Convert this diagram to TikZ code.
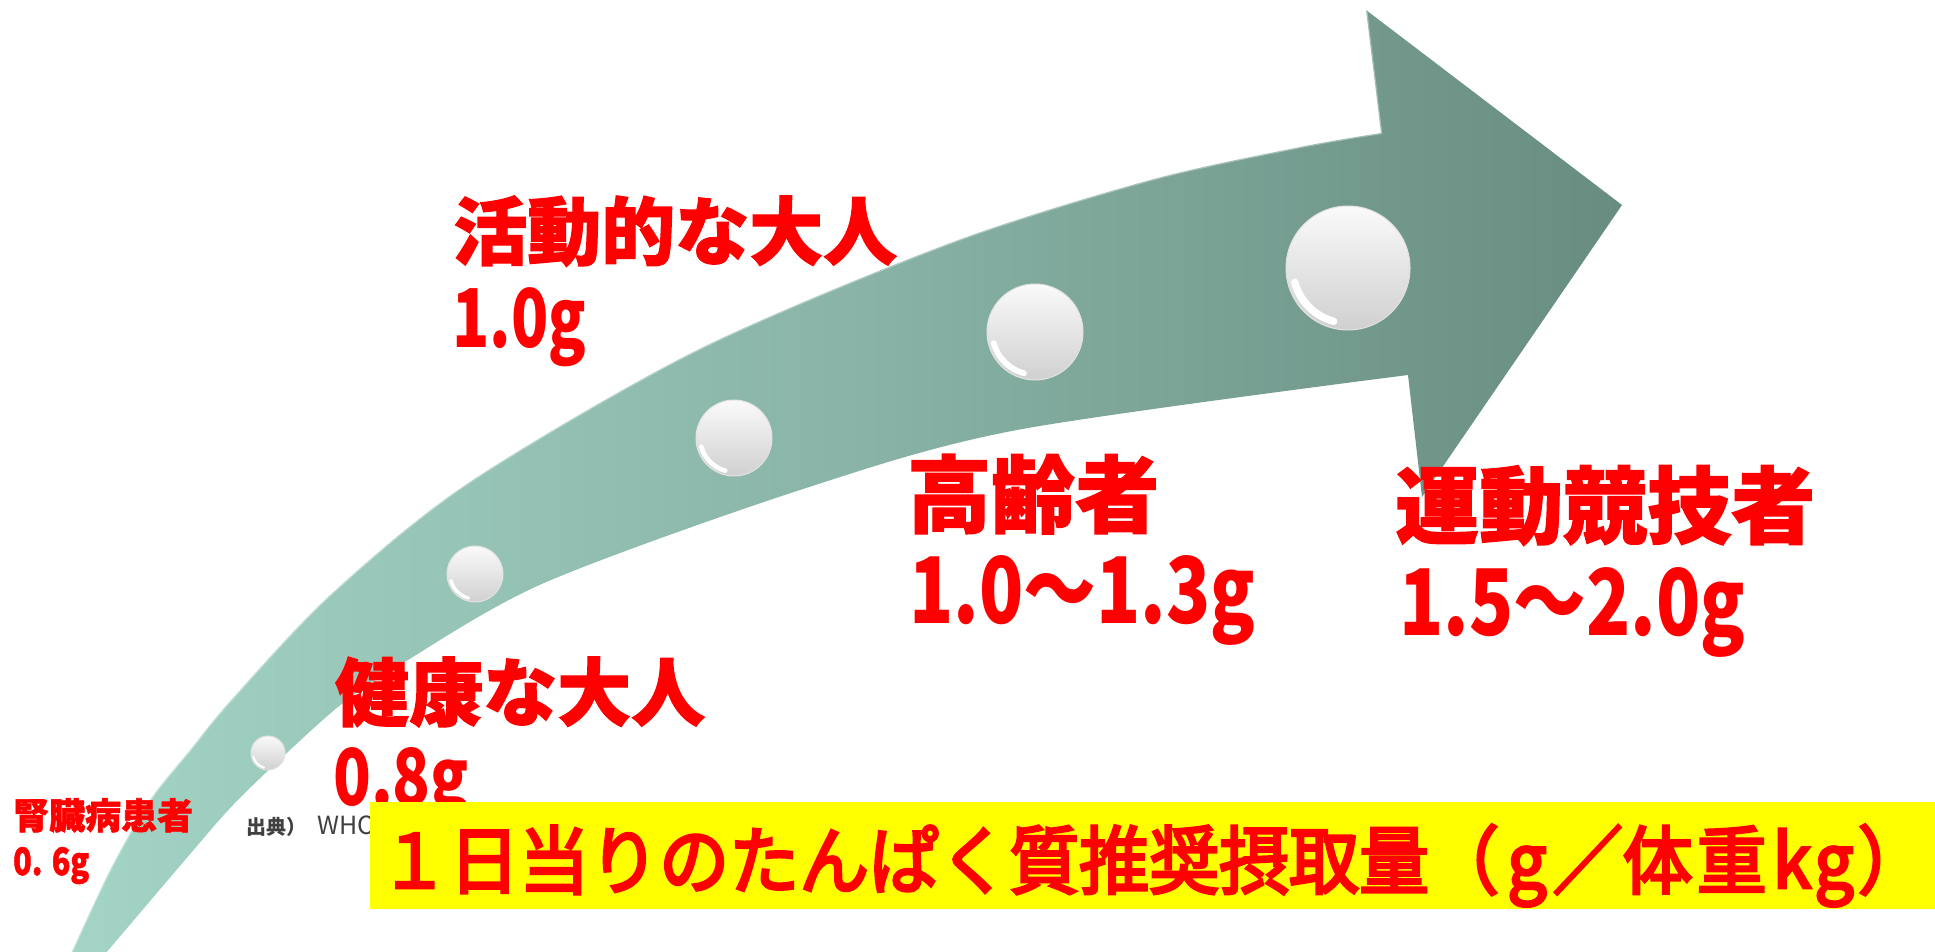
\documentclass[tikz,border=0pt]{standalone}
\usepackage{fontspec}
\usepackage{graphicx}
\usetikzlibrary{calc}
\newfontfamily\jp{Noto Sans CJK JP}
\newfontfamily\jpmed{Noto Sans CJK JP}[FakeBold=4]
\newfontfamily\jpheavy{Noto Sans CJK JP}[BoldFeatures={FakeBold=1.5}]
\definecolor{labelred}{RGB}{255,0,0}
\definecolor{arrowL}{RGB}{163,212,198}
\definecolor{arrowM}{RGB}{137,180,167}
\definecolor{arrowR}{RGB}{104,140,128}
\definecolor{ballTop}{RGB}{250,250,250}
\definecolor{ballBot}{RGB}{208,208,208}
\definecolor{ballRim}{RGB}{226,226,226}
\definecolor{boxyellow}{RGB}{255,255,0}
\definecolor{srcgray}{RGB}{64,64,64}

\begin{document}
\begin{tikzpicture}[x=1pt,y=-1pt,
  lab/.style={text=labelred, inner sep=0pt, anchor=base west},
  head/.style={lab, font=\jpheavy\bfseries\fontsize{#1}{#1}\selectfont},
  num/.style={lab, font=\jp\bfseries},
  ball/.style={circle, inner sep=0pt, top color=ballTop, bottom color=ballBot, draw=ballRim, line width=1pt}]
\useasboundingbox (0,0) rectangle (1935,952);
\clip (0,0) rectangle (1935,952);

% curved arrow, light teal at the tail to dark teal at the head
\shade[left color=arrowL, right color=arrowR, middle color=arrowM]
  plot[smooth] coordinates {(68,960) (110,870) (150,800) (190,750) (231,700) (330,595) (468,483) (697,350) (950,243) (1150,180) (1300,147) (1381,133)}
  -- (1366,10) -- (1622,205) -- (1422,497) -- (1408,375)
  -- plot[smooth] coordinates {(1408,375) (1017,430) (800,490) (544,583) (403,663) (343,703) (290,750) (233,805) (185,860) (100,960)}
  -- cycle;
% bevel highlight along the upper edge
\draw[white, opacity=0.35, line width=2.5pt]
  plot[smooth] coordinates {(68,960) (110,870) (150,800) (190,750) (231,700) (330,595) (468,483) (697,350) (950,243) (1150,180) (1300,147) (1381,133)}
  -- (1366,10);

% pearls along the arrow
\foreach \n/\x/\y/\r in {b1/268/753/17, b2/475/574/28, b3/734/438/38, b4/1035/332/48, b5/1348/268/62}{
  \node[ball, minimum size={2*\r*1pt}] (\n) at (\x,\y) {};
  \draw[white, line cap=round, line width={0.12*\r*1pt}]
    ($(\n.center)+(105:0.89*\r)$) arc[start angle=105, end angle=165, radius=0.89*\r];
}

% labels
\node[head=74] (active) at (453,259) {活動的な大人};
\node[num] (active-v) at (452,347) {\resizebox{134pt}{60pt}{1.0g}};

\node[head=84] (senior) at (907,526) {高齢者};
\node[num] (senior-v) at (909,623) {\resizebox{346pt}{68pt}{1.0～1.3g}};

\node[head=84] (athlete) at (1395,537) {運動競技者};
\node[num] (athlete-v) at (1399,635) {\resizebox{346pt}{68pt}{1.5～2.0g}};

\node[head=74] (healthy) at (335,720) {健康な大人};
\node[num] (healthy-v) at (333,805) {\resizebox{136pt}{58pt}{0.8g}};

\node[head=36] (kidney) at (13,829) {腎臓病患者};
\node[lab, font=\jpheavy\bfseries] (kidney-v) at (13,875) {\resizebox{76pt}{28pt}{0. 6g}};

\node[inner sep=0pt, anchor=base west, text=srcgray, font=\jp\fontsize{20}{20}\selectfont] (source) at (246,834)
  {\textbf{出典）}\hspace{11pt}{\fontsize{25}{25}\selectfont WHO}};

% caption bar
\node[fill=boxyellow, inner sep=0pt, minimum width=1565pt, minimum height=107pt, anchor=north west] (titlebox) at (370,802) {};
\node[lab, font=\jpmed\fontsize{70}{70}\selectfont] (title) at (379,888)
  {\scalebox{1}[1.06]{１日当りのたんぱく質推奨摂取量（\hspace{8pt}g\hspace{6pt}／体\hspace{4pt}重\hspace{6pt}k\hspace{3pt}g\hspace{4pt}）}};
\end{tikzpicture}
\end{document}
